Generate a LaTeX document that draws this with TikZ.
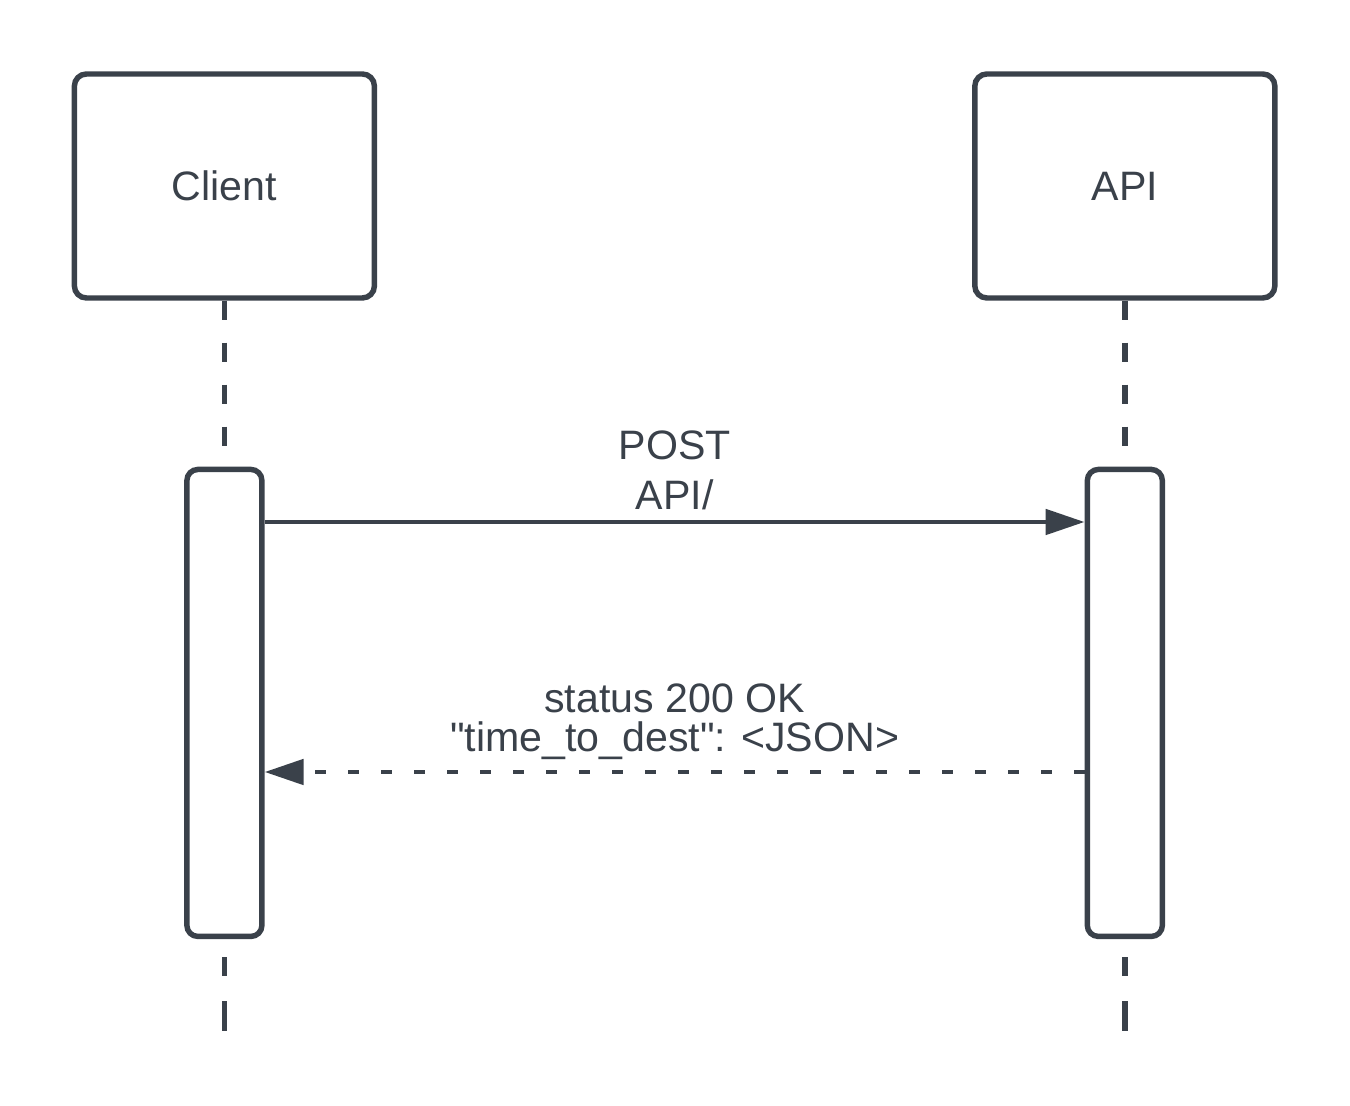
\documentclass[tikz,border=0pt]{standalone}
\usepackage{fontspec}
\setmainfont{Liberation Sans}[Ligatures=TeXOff]
\usepackage{tikz}
\usetikzlibrary{positioning, arrows.meta, calc}
\usepackage{xcolor}
\definecolor{lucid-gray}{RGB}{58,65,74}

\begin{document}
\begin{tikzpicture}[node distance=1.65cm, line width=1.55pt, draw=lucid-gray,
	actor/.style={draw=lucid-gray, rounded corners=0.12cm, minimum width=3cm, minimum height=2.24cm, inner sep=0pt, text=lucid-gray, font=\fontsize{11.7}{11.4}\selectfont},
	bar/.style={draw=lucid-gray, fill=white, rounded corners=0.11cm, minimum width=0.75cm, minimum height=4.67cm, inner sep=0pt},
	lifeline/.style={draw=lucid-gray, dash pattern=on 0.19cm off 0.23cm},
	lifelineend/.style={draw=lucid-gray, dash pattern=on 0.19cm off 0.25cm on 0.30cm off 0.25cm, dash phase=0.81cm},
	msg/.style={draw=lucid-gray, line width=1.4pt, -{Triangle[length=0.39cm, width=0.25cm]}},
	msglabel/.style={inner sep=0pt, align=center, text=lucid-gray, font=\fontsize{11.7}{#1}\selectfont}]
							\useasboundingbox (0,0) rectangle (13.5,-11.06);
							\node[actor] at (2.244,-1.86) (client) {Client};
							\node[actor, right=5.95cm of client] (api) {API};
							\node[bar, below=1.66cm of client] (clientbar) {};
							\node[bar, below=1.66cm of api] (apibar) {};
							\coordinate (clientend) at (2.244,-10.31);
							\coordinate (apiend) at (11.244,-10.31);
							\coordinate (req) at (0,-5.22);
							\coordinate (resp) at (0,-7.72);
							\draw[lifeline] (client) -- (clientbar);
							\draw[lifeline] (api) -- (apibar);
							\draw[lifelineend] (clientbar) -- (clientbar |- clientend);
							\draw[lifelineend] (apibar) -- (apibar |- apiend);
							\draw[msg] (clientbar.east |- req) -- node[msglabel=14.2pt, above=2.7pt] {POST\\API/} (apibar.west |- req);
							\draw[msg, dash pattern=on 0.11cm off 0.22cm] (apibar.west |- resp) -- node[msglabel=11.1pt, above=2.7pt] {status 200 OK\\"time\_to\_dest": <JSON>} (clientbar.east |- resp);
						\end{tikzpicture}
\end{document}
